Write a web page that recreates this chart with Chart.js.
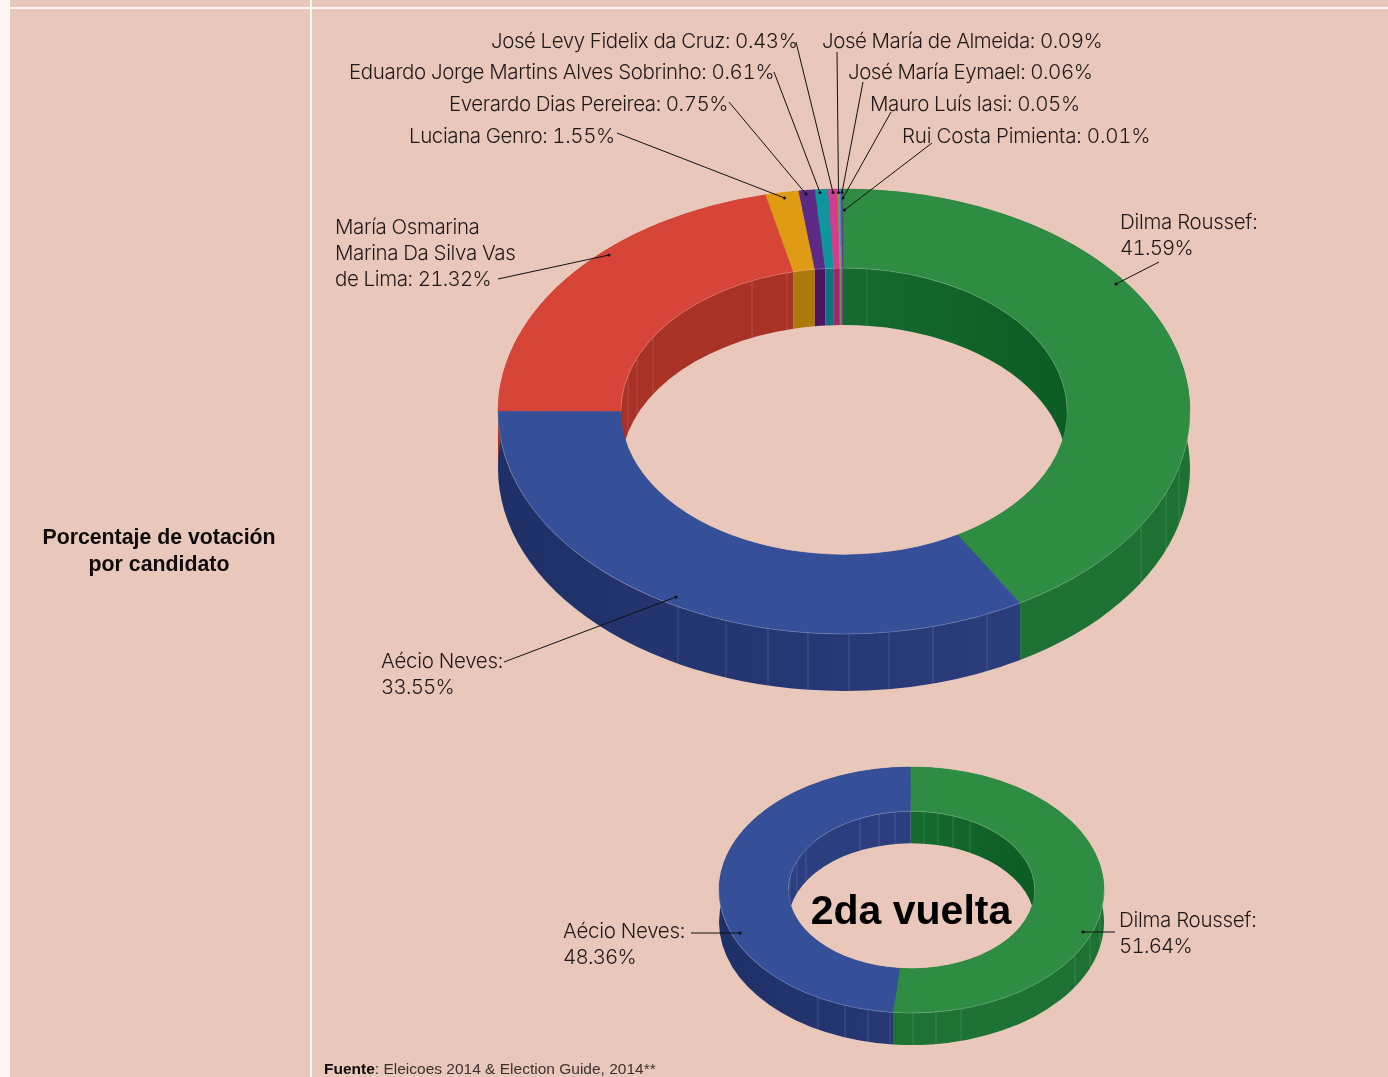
<!DOCTYPE html>
<html lang="es">
<head>
<meta charset="utf-8">
<title>Porcentaje de votación por candidato</title>
<script src="https://cdn.jsdelivr.net/npm/chart.js@4/dist/chart.umd.min.js"></script>
<style>
  html, body { margin: 0; padding: 0; background: #fff; }
  #page { position: relative; width: 1388px; height: 1077px; overflow: hidden; background: #e9c7bb; font-family: "Liberation Sans", sans-serif; color: #2b2523; }
  .rule { position: absolute; background: #fdf6f3; }
  canvas { position: absolute; }
  svg { position: absolute; left: 0; top: 0; }
  .label { position: absolute; font-family: Inter, "Liberation Sans", sans-serif; font-weight: 300; font-size: 20.5px; line-height: 26px; white-space: nowrap; letter-spacing: -0.3px; color: #1f1a19; font-feature-settings: "tnum"; }
  .label span { letter-spacing: -0.8px; }
  #title { position: absolute; left: 10px; width: 298px; top: 524px; text-align: center; font-weight: bold; font-size: 21.3px; line-height: 27px; color: #0d0b0b; }
  #round2 { position: absolute; left: 711px; width: 400px; top: 885px; text-align: center; font-weight: bold; font-size: 41px; line-height: 50px; color: #000; }
  #source { position: absolute; left: 324px; top: 1060px; font-size: 15.5px; line-height: 18px; white-space: nowrap; color: #3a3230; }
  #source b { color: #0d0b0b; }
</style>
</head>
<body>
<div id="page">
  <div class="rule" style="left:0;top:0;width:9.5px;height:1077px"></div>
  <div class="rule" style="left:0;top:6.5px;width:1388px;height:2px"></div>
  <div class="rule" style="left:309.7px;top:0;width:2px;height:1077px"></div>
  <canvas id="firstRound" width="700" height="699" style="left:494px;top:62px"></canvas>
  <canvas id="secondRound" width="399" height="400" style="left:712px;top:690px"></canvas>
  <svg id="leaders" width="1388" height="1077"></svg>
  <div id="title">Porcentaje de votación<br>por candidato</div>
  <div id="round2">2da vuelta</div>
  <div id="source"><b>Fuente</b>: Eleicoes 2014 &amp; Election Guide, 2014**</div>
</div>
<script>
const firstNames = [
  'Dilma Roussef', 'Aécio Neves', 'María Osmarina Marina Da Silva Vas de Lima', 'Luciana Genro',
  'Everardo Dias Pereirea', 'Eduardo Jorge Martins Alves Sobrinho', 'José Levy Fidelix da Cruz',
  'José María de Almeida', 'José María Eymael', 'Mauro Luís Iasi', 'Rui Costa Pimienta'
]
const firstValues = [41.59, 33.55, 21.32, 1.55, 0.75, 0.61, 0.43, 0.09, 0.06, 0.05, 0.01]
const firstColors = ['#2f8c43', '#355099', '#d74538', '#e09b15', '#5c2a86', '#0d979c', '#d53b8e', '#8b9e3e', '#3c8fc9', '#5566b0', '#5a2f8f']
const firstOuterWalls = [['#1f7535', '#1d7233'], ['#1f3068', '#2f4182'], ['#a93226', '#a93226'], ['#ad780c', '#ad780c'], ['#4a1467', '#4a1467'], ['#0f7479', '#0f7479'], ['#a02870', '#a02870'], ['#7a8a55', '#7a8a55'], ['#2e6fa0', '#2e6fa0'], ['#3a2a8a', '#3a2a8a'], ['#4a1467', '#4a1467']]
const firstInnerWalls = [['#1f7a38', '#0c5c25'], ['#2a3c7d', '#2a3c7d'], ['#a93226', '#a93226'], ['#ad780c', '#ad780c'], ['#4a1467', '#4a1467'], ['#0f7479', '#0f7479'], ['#a02870', '#a02870'], ['#7a8a55', '#7a8a55'], ['#2e6fa0', '#2e6fa0'], ['#3a2a8a', '#3a2a8a'], ['#4a1467', '#4a1467']]

const secondNames = ['Dilma Roussef', 'Aécio Neves']
const secondValues = [51.64, 48.36]
const secondColors = ['#2f8c43', '#355099']
const secondOuterWalls = [['#1f7535', '#1d7233'], ['#1f3068', '#2f4182']]
const secondInnerWalls = [['#1f7a38', '#0c5c25'], ['#2c3e80', '#2c3e80']]

// x positions of the faint seams on the walls, as in the print
const firstOuterSeams = [678, 726, 768, 808, 849, 889, 933, 987, 1141, 1166, 1179]
const firstInnerSeams = [628, 637, 653, 752, 787, 867]
const secondOuterSeams = [818, 845, 868, 890, 913, 936, 961, 1075, 1090, 1100]
const secondInnerSeams = [790, 797, 806, 860, 879, 895, 924, 938, 953, 970]

function formatShare (value) {
  return value.toFixed(2) + '%'
}

function shareSpan (value) {
  return '<span>' + formatShare(value) + '</span>'
}

const labels = [
  { text: firstNames[6] + ': ' + formatShare(firstValues[6]), x: 491, y: 28, spacing: -0.43 },
  { text: firstNames[5] + ': ' + formatShare(firstValues[5]), x: 349, y: 59, spacing: -0.37 },
  { text: firstNames[4] + ': ' + formatShare(firstValues[4]), x: 449, y: 91, spacing: -0.44 },
  { text: firstNames[3] + ': ' + formatShare(firstValues[3]), x: 409, y: 123, spacing: -0.4 },
  { text: firstNames[7] + ': ' + formatShare(firstValues[7]), x: 822, y: 28, spacing: -0.44 },
  { text: firstNames[8] + ': ' + formatShare(firstValues[8]), x: 848, y: 59, spacing: -0.46 },
  { text: firstNames[9] + ': ' + formatShare(firstValues[9]), x: 870, y: 91, spacing: -0.4 },
  { text: firstNames[10] + ': ' + formatShare(firstValues[10]), x: 902, y: 123, spacing: -0.2 },
  { text: 'María Osmarina<br>Marina Da Silva Vas<br>de Lima: ' + shareSpan(firstValues[2]), x: 335, y: 214, spacing: -0.38 },
  { text: firstNames[0] + ':<br>' + shareSpan(firstValues[0]), x: 1120, y: 209 },
  { text: firstNames[1] + ':<br>' + shareSpan(firstValues[1]), x: 381, y: 648 },
  { text: secondNames[1] + ':<br>' + shareSpan(secondValues[1]), x: 563, y: 918 },
  { text: secondNames[0] + ':<br>' + shareSpan(secondValues[0]), x: 1119, y: 907 }
]

const leaders = [
  [617, 133, 784.5, 198], [729, 102, 806, 194], [774, 72, 820, 192.5], [796, 42, 833, 192.5],
  [837, 52, 838.5, 192.5], [863, 82, 842, 192.5], [891, 112, 843, 198], [932, 143, 844.5, 210],
  [498, 279, 609, 255], [1159, 262, 1116, 284], [504, 662, 676, 597],
  [691, 933, 740, 933], [1115, 932, 1083, 932]
]

function drawLabels () {
  const page = document.getElementById('page')
  labels.forEach(function (item) {
    const div = document.createElement('div')
    div.className = 'label'
    div.style.left = item.x + 'px'
    div.style.top = item.y + 'px'
    if (item.spacing) div.style.letterSpacing = item.spacing + 'px'
    div.innerHTML = item.text
    page.appendChild(div)
  })

  const svg = document.getElementById('leaders')
  let markup = ''
  leaders.forEach(function (l) {
    markup += '<line x1="' + l[0] + '" y1="' + l[1] + '" x2="' + l[2] + '" y2="' + l[3] + '" stroke="#111" stroke-width="1"/>'
    markup += '<circle cx="' + l[2] + '" cy="' + l[3] + '" r="1.5" fill="#111"/>'
  })
  svg.innerHTML = markup
}

function wallFill (ctx, el, radius, colors) {
  const gradient = ctx.createLinearGradient(el.x - radius, 0, el.x + radius, 0)
  gradient.addColorStop(0, colors[0])
  gradient.addColorStop(1, colors[1])
  return gradient
}

// the wall under one edge of a slice: its arc on top, the same arc further down
function fillWall (ctx, el, radius, ratio, depth, colors) {
  ctx.beginPath()
  ctx.ellipse(el.x, el.y, radius, radius * ratio, 0, el.startAngle, el.endAngle)
  ctx.ellipse(el.x, el.y + depth, radius, radius * ratio, 0, el.endAngle, el.startAngle, true)
  ctx.closePath()
  ctx.fillStyle = wallFill(ctx, el, radius, colors)
  ctx.fill()
}

function drawSeams (ctx, el, radius, ratio, depth, seams, side, offsetLeft) {
  ctx.strokeStyle = 'rgba(255, 255, 255, 0.14)'
  ctx.lineWidth = 1
  seams.forEach(function (pageX) {
    const dx = pageX - offsetLeft - el.x
    const dy = side * radius * ratio * Math.sqrt(1 - (dx * dx) / (radius * radius))
    ctx.beginPath()
    ctx.moveTo(el.x + dx, el.y + dy)
    ctx.lineTo(el.x + dx, el.y + dy + depth)
    ctx.stroke()
  })
}

// squashes the doughnut into an ellipse and gives it walls
const tiltPlugin = {
  id: 'tilt',
  beforeDatasetsDraw (chart, args, options) {
    const ctx = chart.ctx
    const arcs = chart.getDatasetMeta(0).data
    const first = arcs[0]

    arcs.forEach(function (el, i) {
      fillWall(ctx, el, first.outerRadius, options.ratio, options.depth, options.outerWalls[i])
    })
    arcs.forEach(function (el, i) {
      fillWall(ctx, el, first.innerRadius, options.ratio, options.depth, options.innerWalls[i])
    })
    drawSeams(ctx, first, first.outerRadius, options.ratio, options.depth, options.outerSeams, 1, options.offsetLeft)
    drawSeams(ctx, first, first.innerRadius, options.ratio, options.depth, options.innerSeams, -1, options.offsetLeft)

    ctx.save()
    ctx.translate(first.x, first.y)
    ctx.scale(1, options.ratio)
    ctx.translate(-first.x, -first.y)
  },
  afterDatasetsDraw (chart, args, options) {
    const ctx = chart.ctx
    const first = chart.getDatasetMeta(0).data[0]
    ctx.restore()

    ctx.strokeStyle = 'rgba(255, 255, 255, 0.22)'
    ctx.lineWidth = 0.75
    ctx.beginPath()
    ctx.ellipse(first.x, first.y, first.outerRadius, first.outerRadius * options.ratio, 0, 0, Math.PI)
    ctx.stroke()
    ctx.beginPath()
    ctx.ellipse(first.x, first.y, first.innerRadius, first.innerRadius * options.ratio, 0, Math.PI, Math.PI * 2)
    ctx.stroke()
  }
}

function createChart (id, names, values, colors, radius, cutout, rotation, tilt) {
  const ctx = document.getElementById(id).getContext('2d')
  return new Chart(ctx, {
    type: 'doughnut',
    data: {
      labels: names,
      // the thin border closes the hairline gaps between the narrowest slices
      datasets: [{ data: values, backgroundColor: colors, borderColor: colors, borderWidth: 0.6 }]
    },
    options: {
      responsive: false,
      animation: false,
      radius,
      cutout,
      rotation,
      layout: { padding: 0 },
      events: [],
      plugins: {
        legend: { display: false },
        tooltip: { enabled: false },
        tilt
      }
    },
    plugins: [tiltPlugin]
  })
}

createChart('firstRound', firstNames, firstValues, firstColors, 346, '64.5%', -0.3, {
  ratio: 0.643,
  depth: 57,
  outerWalls: firstOuterWalls,
  innerWalls: firstInnerWalls,
  outerSeams: firstOuterSeams,
  innerSeams: firstInnerSeams,
  offsetLeft: 494
})

createChart('secondRound', secondNames, secondValues, secondColors, 192.5, '64%', -0.4, {
  ratio: 0.639,
  depth: 32,
  outerWalls: secondOuterWalls,
  innerWalls: secondInnerWalls,
  outerSeams: secondOuterSeams,
  innerSeams: secondInnerSeams,
  offsetLeft: 712
})

drawLabels()
</script>
</body>
</html>
